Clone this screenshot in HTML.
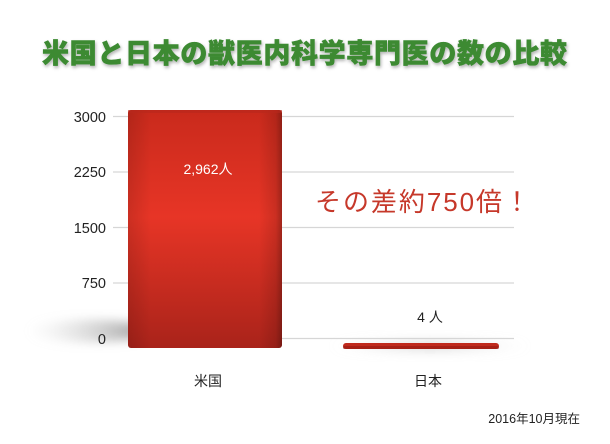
<!DOCTYPE html>
<html><head><meta charset="utf-8">
<style>
html,body{margin:0;padding:0;background:#fff;}
body{width:610px;height:444px;overflow:hidden;position:relative;font-family:"Liberation Sans","Noto Sans CJK JP",sans-serif;}
svg{position:absolute;left:0;top:0;}
</style></head><body>
<svg width="610" height="444" viewBox="0 0 610 444" xmlns="http://www.w3.org/2000/svg">
<defs>
  <linearGradient id="bv" x1="0" y1="0" x2="0" y2="1">
    <stop offset="0" stop-color="#c92a1c"/>
    <stop offset="0.45" stop-color="#e73526"/>
    <stop offset="1" stop-color="#a9231a"/>
  </linearGradient>
  <linearGradient id="bh" x1="0" y1="0" x2="1" y2="0">
    <stop offset="0" stop-color="#000" stop-opacity="0.12"/>
    <stop offset="0.15" stop-color="#000" stop-opacity="0"/>
    <stop offset="0.85" stop-color="#000" stop-opacity="0"/>
    <stop offset="0.96" stop-color="#000" stop-opacity="0.12"/>
    <stop offset="1" stop-color="#000" stop-opacity="0.3"/>
  </linearGradient>
  <linearGradient id="shL" x1="1" y1="0" x2="0" y2="0">
    <stop offset="0" stop-color="#888" stop-opacity="0.85"/>
    <stop offset="1" stop-color="#ccc" stop-opacity="0"/>
  </linearGradient>
  <radialGradient id="shJ" cx="0.5" cy="0.5" r="0.5">
    <stop offset="0" stop-color="#aaa" stop-opacity="0.6"/>
    <stop offset="1" stop-color="#ddd" stop-opacity="0"/>
  </radialGradient>
  <filter id="blur" x="-20%" y="-50%" width="140%" height="200%"><feGaussianBlur stdDeviation="5"/></filter>
  <filter id="tsh" x="-5%" y="-30%" width="110%" height="160%"><feDropShadow dx="1" dy="2" stdDeviation="1.5" flood-color="#000" flood-opacity="0.3"/></filter>
</defs>

<!-- title -->
<text x="42" y="63" textLength="525" lengthAdjust="spacing" font-family="'Noto Sans CJK JP',sans-serif" font-weight="900" font-size="27" fill="#3c8a33" stroke="#3c8a33" stroke-width="0.6" filter="url(#tsh)">米国と日本の獣医内科学専門医の数の比較</text>

<!-- shadows -->
<ellipse cx="90" cy="331" rx="62" ry="11" fill="url(#shL)" filter="url(#blur)"/>
<ellipse cx="430" cy="346" rx="100" ry="8" fill="url(#shJ)" filter="url(#blur)"/>

<!-- gridlines -->
<g stroke="#d6d6d6" stroke-width="1.2">
  <line x1="113" y1="116.5" x2="514" y2="116.5"/>
  <line x1="113" y1="172" x2="514" y2="172"/>
  <line x1="113" y1="227.5" x2="514" y2="227.5"/>
  <line x1="113" y1="283" x2="514" y2="283"/>
  <line x1="113" y1="338.5" x2="514" y2="338.5"/>
</g>

<!-- y labels -->
<g font-size="14.5" fill="#222" text-anchor="end">
  <text x="106" y="122">3000</text>
  <text x="106" y="177">2250</text>
  <text x="106" y="233">1500</text>
  <text x="106" y="288">750</text>
  <text x="106" y="344">0</text>
</g>

<!-- US bar -->
<rect x="128" y="110" width="154" height="238" rx="3" fill="url(#bv)"/>
<rect x="128" y="110" width="154" height="238" rx="3" fill="url(#bh)"/>
<rect x="128" y="110" width="154" height="3" fill="#b8281c" opacity="0.6"/>
<text x="208" y="174" text-anchor="middle" font-size="14" fill="#fff">2,962人</text>

<!-- Japan bar -->
<rect x="343" y="343" width="156" height="6" rx="3" fill="#c02a1d"/>
<rect x="343" y="346" width="156" height="3" rx="1.5" fill="#951b12" opacity="0.6"/>
<text x="430" y="322" text-anchor="middle" font-size="14" fill="#222">4 人</text>

<!-- annotation -->
<text x="315" y="211" textLength="215" lengthAdjust="spacing" font-size="26" fill="#c6382a">その差約750倍！</text>

<!-- categories -->
<text x="208" y="386" text-anchor="middle" font-size="14" fill="#222">米国</text>
<text x="428" y="386" text-anchor="middle" font-size="14" fill="#222">日本</text>

<text x="580" y="423" text-anchor="end" font-size="12.5" fill="#222">2016年10月現在</text>
</svg>
</body></html>
